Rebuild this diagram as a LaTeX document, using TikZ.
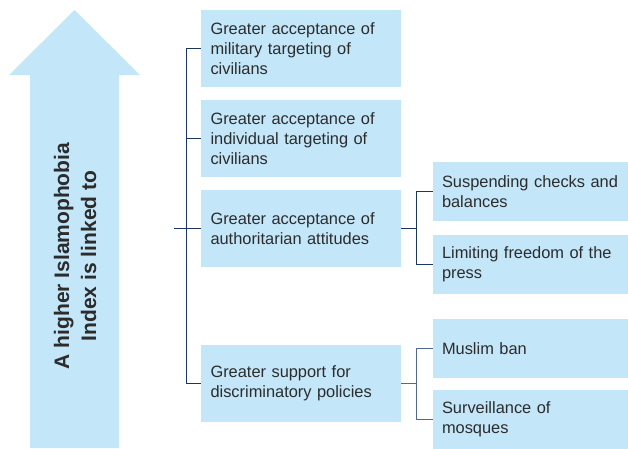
\documentclass[tikz,border=0pt]{standalone}
\usepackage{fontspec}
\setmainfont{Liberation Sans}
\definecolor{boxblue}{HTML}{C3E6F8}
\definecolor{navy}{HTML}{1B365D}
\definecolor{slateline}{HTML}{4F6A8C}
\definecolor{textgray}{HTML}{2C2C2C}
\tikzset{
	effect/.style={fill=boxblue, text=textgray, minimum height=77pt, text width=181pt, inner xsep=9.5pt, align=left, font=\fontsize{16.4}{20}\selectfont},
	subeffect/.style={effect, minimum height=59pt, text width=177pt, inner xsep=9pt},
	link/.style={draw=navy, line width=1.3pt},
}

\begin{document}
\begin{tikzpicture}[x=1pt, y=-1pt]
	\useasboundingbox (0,0) rectangle (628,448);
	%la fleche
	\fill[boxblue] (30,448) -- (30,75) -- (9,75) -- (74.5,10) -- (140,75) -- (119,75) -- (119,448) -- cycle;
	\node[rotate=90, align=center, text=textgray, font=\bfseries\fontsize{21}{27}\selectfont] (index) at (75,256) {A higher Islamophobia\\Index is linked to};
	%les effets
	\node[effect] (acc1) at (301,48.5) {Greater acceptance of\\military targeting of\\civilians};
	\node[effect] (acc2) at (301,138.5) {Greater acceptance of\\individual targeting of\\civilians};
	\node[effect] (acc3) at (301,228.5) {Greater acceptance of\\authoritarian attitudes};
	\node[effect] (acc4) at (301,383.5) {Greater support for\\discriminatory policies};
	\node[subeffect] (supA) at (530.5,191.5) {Suspending checks and\\balances};
	\node[subeffect] (supB) at (530.5,264.5) {Limiting freedom of the\\press};
	\node[subeffect] (supC) at (530.5,348.5) {Muslim ban};
	\node[subeffect] (supD) at (530.5,419.5) {Surveillance of\\mosques};
	%les crochets
	\coordinate (root) at (174,228.5);
	\draw[link] (acc1.west) -- ++(-14,0) |- (acc4.west);
	\draw[link] (acc2.west) -- ++(-14,0);
	\draw[link] (root) -- (acc3.west);
	\draw[link] (acc3.east) -- ++(16,0);
	\draw[link] (supA.west) -- ++(-16,0) |- (supB.west);
	\draw[link, draw=slateline] (acc4.east) -- ++(16,0);
	\draw[link, draw=slateline] (supC.west) -- ++(-16,0) |- (supD.west);
\end{tikzpicture}
\end{document}
